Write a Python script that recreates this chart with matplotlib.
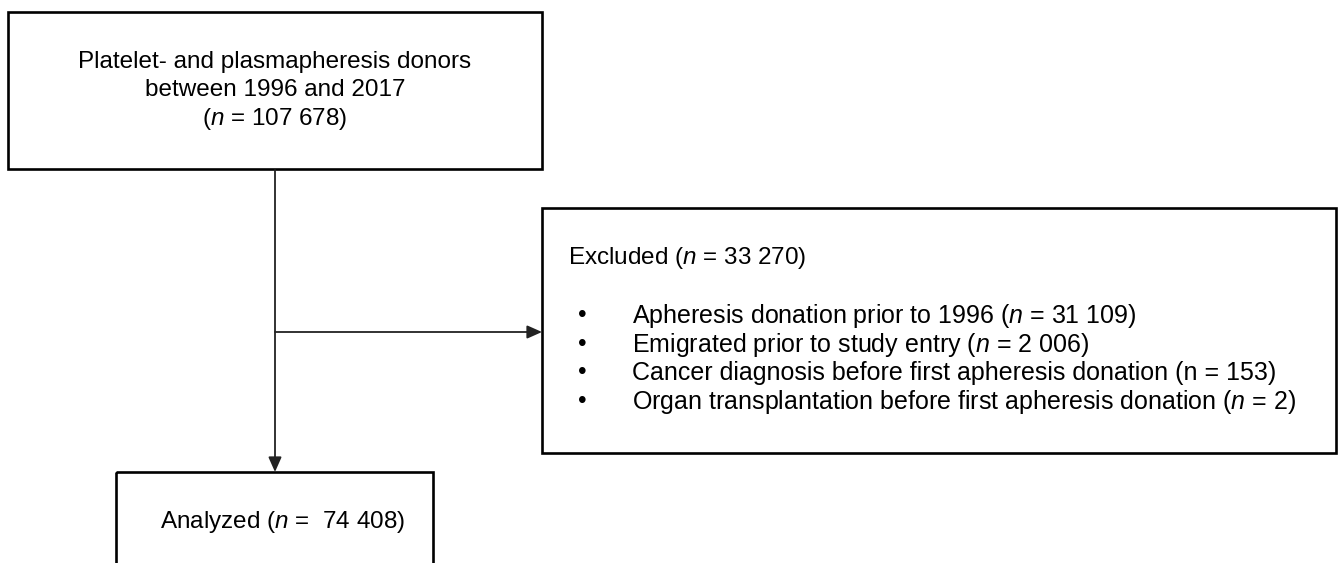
import matplotlib
matplotlib.use('Agg')
import matplotlib.pyplot as plt
from matplotlib.patches import Rectangle

plt.rcParams['font.family'] = ['Liberation Sans', 'DejaVu Sans']
plt.rcParams['mathtext.fontset'] = 'custom'
plt.rcParams['mathtext.rm'] = 'Liberation Sans'
plt.rcParams['mathtext.it'] = 'Liberation Sans:italic'

# flowchart content
top_lines = ['Platelet- and plasmapheresis donors',
             'between 1996 and 2017',
             r'($\mathit{n}$ = 107 678)']
excl_title = r'Excluded ($\mathit{n}$ = 33 270)'
excl_items = [r'Apheresis donation prior to 1996 ($\mathit{n}$ = 31 109)',
              r'Emigrated prior to study entry ($\mathit{n}$ = 2 006)',
              'Cancer diagnosis before first apheresis donation (n = 153)',
              r'Organ transplantation before first apheresis donation ($\mathit{n}$ = 2)']
final_text = r'Analyzed ($\mathit{n}$ =  74 408)'

W, H = 1338, 563
fig = plt.figure(figsize=(W/100, H/100), dpi=100)
ax = fig.add_axes([0, 0, 1, 1])
ax.set_xlim(0, W)
ax.set_ylim(H, 0)
ax.axis('off')

fs = 17.5
box_kw = dict(fill=False, edgecolor='black', linewidth=1.9)

# boxes (x, y, w, h) in pixels
ax.add_patch(Rectangle((8, 12), 534, 157, **box_kw))
ax.add_patch(Rectangle((542, 208), 794, 245, **box_kw))
ax.add_patch(Rectangle((116, 472), 317, 120, **box_kw))

for i, t in enumerate(top_lines):
    ax.text(275, 62 + 28.5*i, t, ha='center', va='center', fontsize=fs)

ax.text(568, 258, excl_title, ha='left', va='center', fontsize=fs)
for i, t in enumerate(excl_items):
    y = 316 + 28.7*i
    ax.text(582, y, '•', ha='center', va='center', fontsize=fs)
    ax.text(632, y, t, ha='left', va='center', fontsize=18)

ax.text(160, 522, final_text, ha='left', va='center', fontsize=fs)

# connectors
arrow = dict(arrowstyle='-|>,head_length=0.9,head_width=0.4', color='#222222',
             lw=1.3, shrinkA=0, shrinkB=0)
ax.annotate('', xy=(275, 472), xytext=(275, 170), arrowprops=arrow)
ax.annotate('', xy=(542, 332), xytext=(275, 332), arrowprops=arrow)

plt.savefig('out.png', dpi=100)
